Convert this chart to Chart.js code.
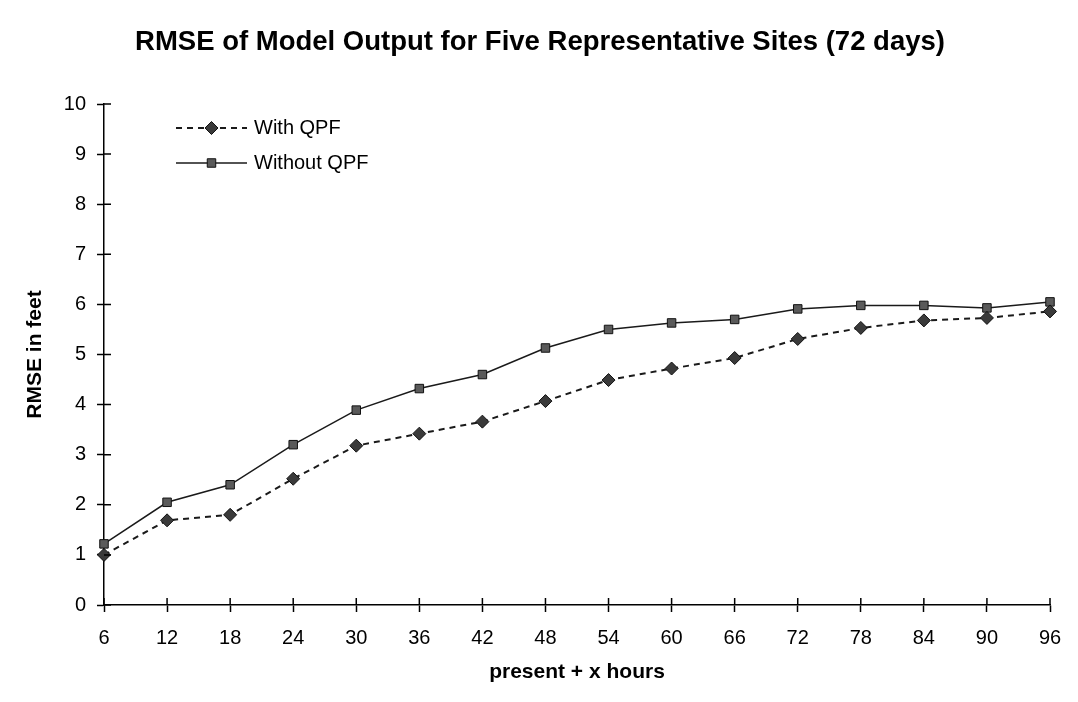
<!DOCTYPE html>
<html>
<head>
<meta charset="utf-8">
<script src="https://cdn.jsdelivr.net/npm/chart.js@4"></script>
<style>
  body { margin: 0; background: #fff; }
  #rmseChart { display: block; }
</style>
</head>
<body>
<canvas id="rmseChart" width="1078" height="702"></canvas>
<script>
var hours = ['6', '12', '18', '24', '30', '36', '42', '48', '54', '60', '66', '72', '78', '84', '90', '96'];
var withQpf = [1.0, 1.69, 1.8, 2.52, 3.18, 3.42, 3.66, 4.07, 4.49, 4.72, 4.93, 5.31, 5.53, 5.68, 5.73, 5.86];
var withoutQpf = [1.22, 2.05, 2.4, 3.2, 3.89, 4.32, 4.6, 5.13, 5.5, 5.63, 5.7, 5.91, 5.98, 5.98, 5.93, 6.05];
var yTicks = [0, 1, 2, 3, 4, 5, 6, 7, 8, 9, 10];

var FONT = "'Liberation Sans', Arial, sans-serif";

// ticks that cross the axis line (inner half)
var innerTicks = {
    id: 'innerTicks',
    afterDraw: function (chart) {
        var ctx = chart.ctx, area = chart.chartArea;
        var xs = chart.scales.x, ys = chart.scales.y;
        ctx.save();
        ctx.strokeStyle = '#000';
        ctx.lineWidth = 1.5;
        ctx.beginPath();
        hours.forEach(function (h, i) {
            var px = xs.getPixelForValue(i);
            ctx.moveTo(px, area.bottom);
            ctx.lineTo(px, area.bottom - 7);
        });
        yTicks.forEach(function (v) {
            var py = ys.getPixelForValue(v);
            ctx.moveTo(area.left, py);
            ctx.lineTo(area.left + 7, py);
        });
        ctx.stroke();
        ctx.restore();
    }
};

// legend drawn inside the plot, top left
var insideLegend = {
    id: 'insideLegend',
    afterDraw: function (chart) {
        var ctx = chart.ctx;
        var x0 = 176, x1 = 247, rows = [128, 163];
        chart.data.datasets.forEach(function (ds, i) {
            var y = rows[i];
            ctx.save();
            ctx.strokeStyle = ds.borderColor;
            ctx.lineWidth = ds.borderWidth;
            ctx.setLineDash(ds.borderDash || []);
            ctx.beginPath();
            ctx.moveTo(x0, y);
            ctx.lineTo(x1, y);
            ctx.stroke();
            ctx.setLineDash([]);
            ctx.fillStyle = ds.pointBackgroundColor;
            ctx.strokeStyle = ds.pointBorderColor;
            ctx.lineWidth = 1;
            Chart.helpers.drawPoint(ctx, {
                pointStyle: ds.pointStyle,
                radius: ds.pointRadius,
                rotation: 0,
                borderWidth: 1
            }, (x0 + x1) / 2, y);
            ctx.fillStyle = '#000';
            ctx.font = '20px ' + FONT;
            ctx.textBaseline = 'middle';
            ctx.fillText(ds.label, 254, y);
            ctx.restore();
        });
    }
};

var ctx = document.getElementById('rmseChart').getContext('2d');
var chart = new Chart(ctx, {
    type: 'line',
    data: {
        labels: hours,
        datasets: [{
            label: 'With QPF',
            data: withQpf,
            borderColor: '#1a1a1a',
            borderWidth: 2,
            borderDash: [6, 5],
            pointStyle: 'rectRot',
            pointRadius: 6.5,
            pointBackgroundColor: '#3a3a3a',
            pointBorderColor: '#111',
            pointBorderWidth: 1,
            tension: 0
        }, {
            label: 'Without QPF',
            data: withoutQpf,
            borderColor: '#1a1a1a',
            borderWidth: 1.5,
            pointStyle: 'rect',
            pointRadius: 6,
            pointBackgroundColor: '#5a5a5a',
            pointBorderColor: '#111',
            pointBorderWidth: 1,
            tension: 0
        }]
    },
    options: {
        responsive: false,
        animation: false,
        layout: {
            padding: { left: 30, right: 28, top: 0, bottom: 0 }
        },
        scales: {
            x: {
                afterFit: function (scale) { scale.height = 97; },
                grid: {
                    drawOnChartArea: false,
                    tickLength: 7,
                    tickColor: '#000',
                    tickWidth: 1.5
                },
                border: { color: '#000', width: 1.5 },
                ticks: {
                    color: '#000',
                    padding: 14,
                    maxRotation: 0,
                    autoSkip: false,
                    font: { family: FONT, size: 20 }
                },
                title: {
                    display: true,
                    text: 'present + x hours',
                    color: '#000',
                    padding: { top: 0, bottom: 17 },
                    font: { family: FONT, size: 21, weight: 'bold' }
                }
            },
            y: {
                min: 0,
                max: 10,
                afterFit: function (scale) { scale.width = 74; },
                afterBuildTicks: function (scale) {
                    scale.ticks = yTicks.map(function (v) { return { value: v }; });
                },
                grid: {
                    drawOnChartArea: false,
                    tickLength: 7,
                    tickColor: '#000',
                    tickWidth: 1.5
                },
                border: { color: '#000', width: 1.5 },
                ticks: {
                    color: '#000',
                    padding: 11,
                    font: { family: FONT, size: 20 }
                },
                title: {
                    display: true,
                    text: 'RMSE in feet',
                    color: '#000',
                    padding: { top: -7, bottom: 0 },
                    font: { family: FONT, size: 21, weight: 'bold' }
                }
            }
        },
        plugins: {
            title: {
                display: true,
                text: 'RMSE of Model Output for Five Representative Sites (72 days)',
                color: '#000',
                padding: { top: 26, bottom: 45 },
                font: { family: FONT, size: 27.5, weight: 'bold' }
            },
            legend: { display: false },
            tooltip: { enabled: false }
        }
    },
    plugins: [innerTicks, insideLegend]
});
</script>
</body>
</html>
